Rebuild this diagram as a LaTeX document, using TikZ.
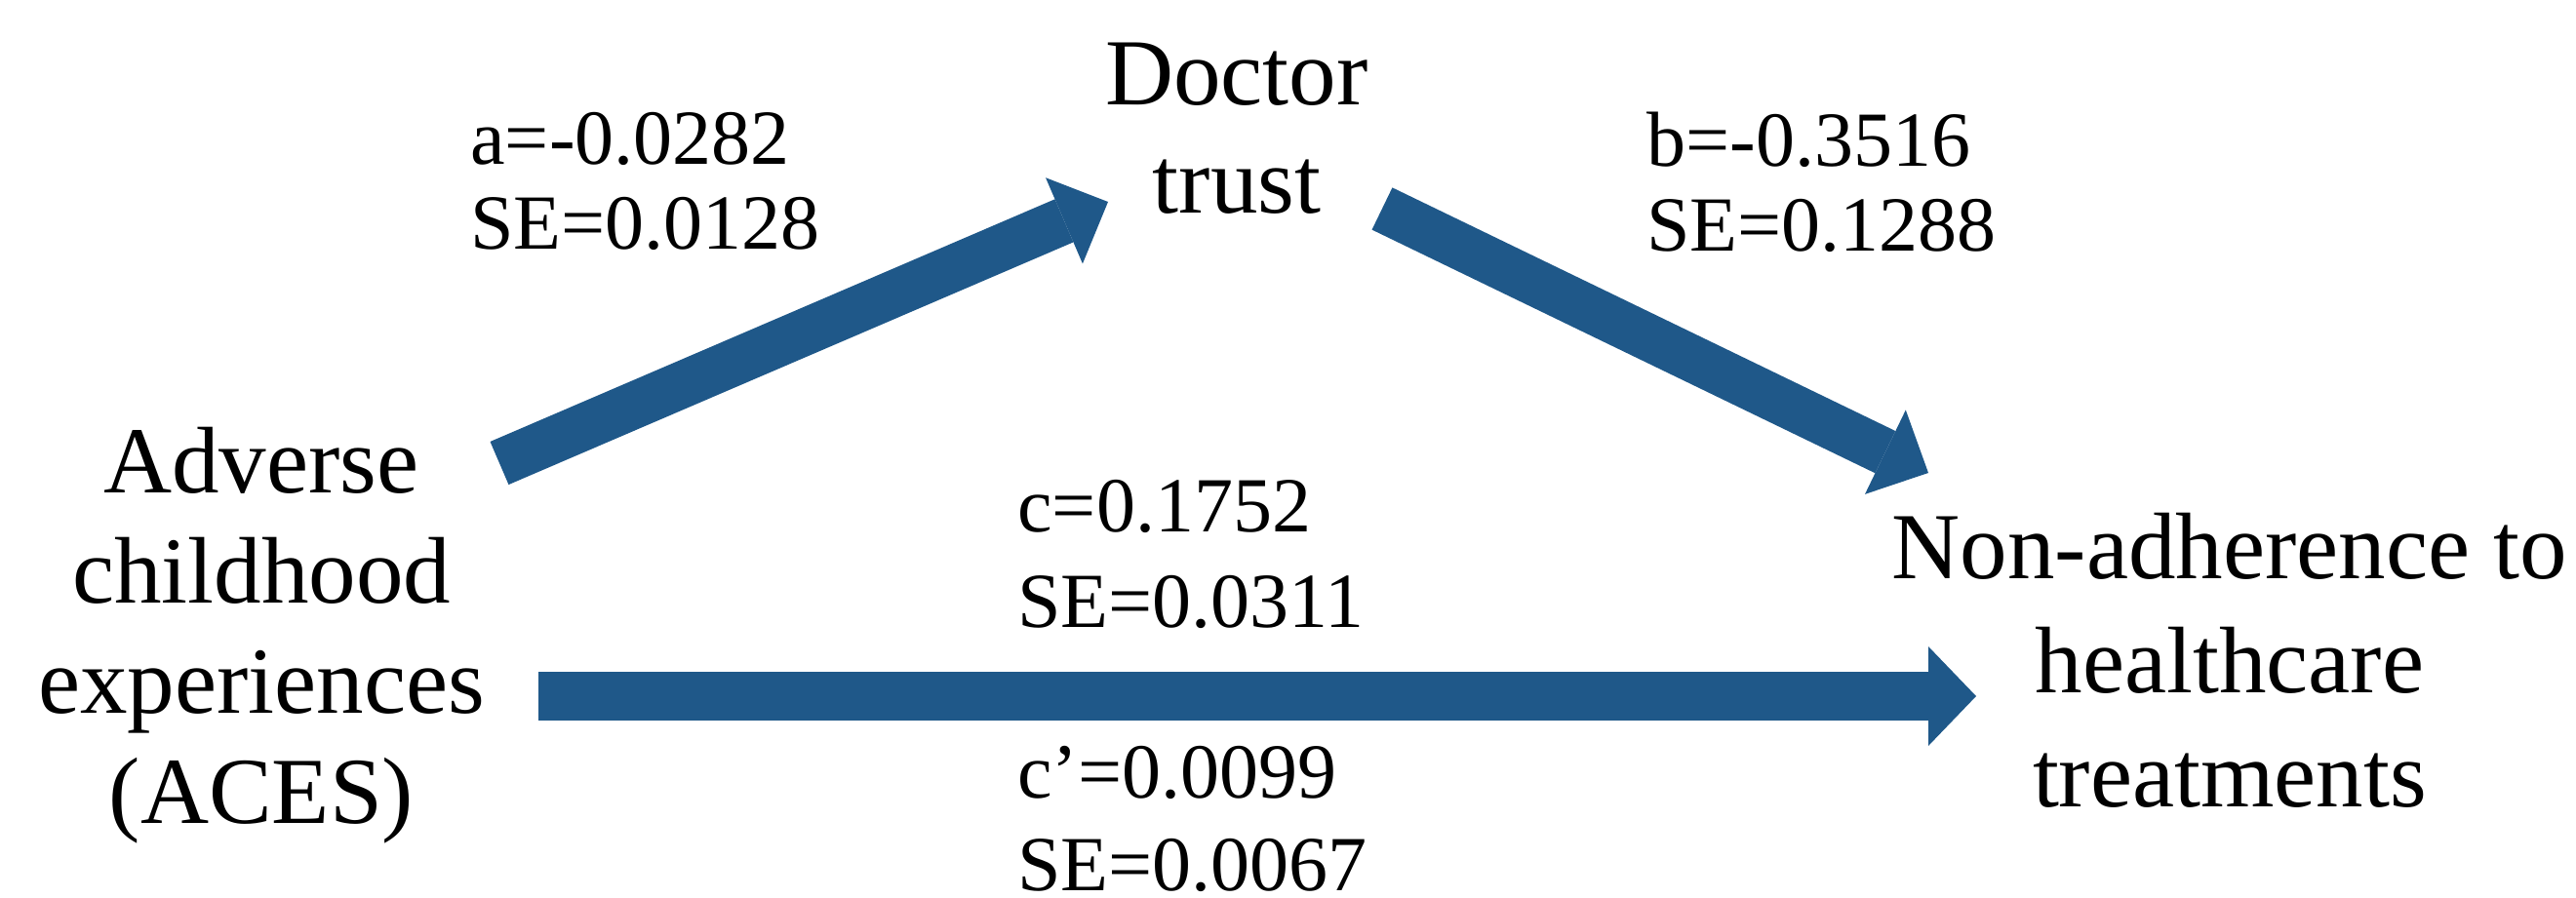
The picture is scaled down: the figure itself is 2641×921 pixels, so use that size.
\documentclass[tikz,border=0pt]{standalone}
\usepackage{fontspec}
\setmainfont{Liberation Serif}
\usetikzlibrary{arrows.meta}
\definecolor{arrowblue}{RGB}{31,88,137}
\begin{document}
\begin{tikzpicture}[x=0.5pt,y=-0.5pt,
  var/.style={align=center, inner sep=0pt, anchor=base, font=\fontsize{48.5}{56.5}\selectfont},
  est/.style={align=left, inner sep=0pt, anchor=base west, font=\fontsize{40}{43.5}\selectfont},
  bigarrow/.style={draw=arrowblue, line width=24pt, line cap=butt,
    -{Triangle[length=24.5pt 0 0, width=48pt 0 0, line width=0pt 0 0]}}]
\useasboundingbox (0,0) rectangle (2641,921);
% variables (anchored at the baseline of their last line)
\node[var, font=\fontsize{48.5}{55.5}\selectfont] (doc) at (1268,218) {Doctor\\trust};
\node[var, font=\fontsize{48.5}{56.5}\selectfont] (ace) at (268,844) {Adverse\\childhood\\experiences\\(ACES)};
\node[var, font=\fontsize{48.5}{58.5}\selectfont] (non) at (2286,827) {Non-adherence to\\healthcare\\treatments};
% estimates
\node[est] (la) at (482,255) {a=-0.0282\\SE=0.0128};
\node[est] (lb) at (1688,257) {b=-0.3516\\SE=0.1288};
\node[est, font=\fontsize{40}{49}\selectfont] (lc) at (1043,643) {c=0.1752\\SE=0.0311};
\node[est, font=\fontsize{40}{47.5}\selectfont] (lcp) at (1043,913) {c’=0.0099\\SE=0.0067};
% arrow ends
\coordinate (a1) at (512,475); \coordinate (a2) at (1136,207);
\coordinate (b1) at (1417,214); \coordinate (b2) at (1977,485);
\coordinate (c1) at (552,714); \coordinate (c2) at (2026,714);
\draw[bigarrow] (a1) -- (a2);
\draw[bigarrow] (b1) -- (b2);
\draw[bigarrow, line width=25pt, -{Triangle[length=24.5pt 0 0, width=51pt 0 0, line width=0pt 0 0]}] (c1) -- (c2);
\end{tikzpicture}
\end{document}
